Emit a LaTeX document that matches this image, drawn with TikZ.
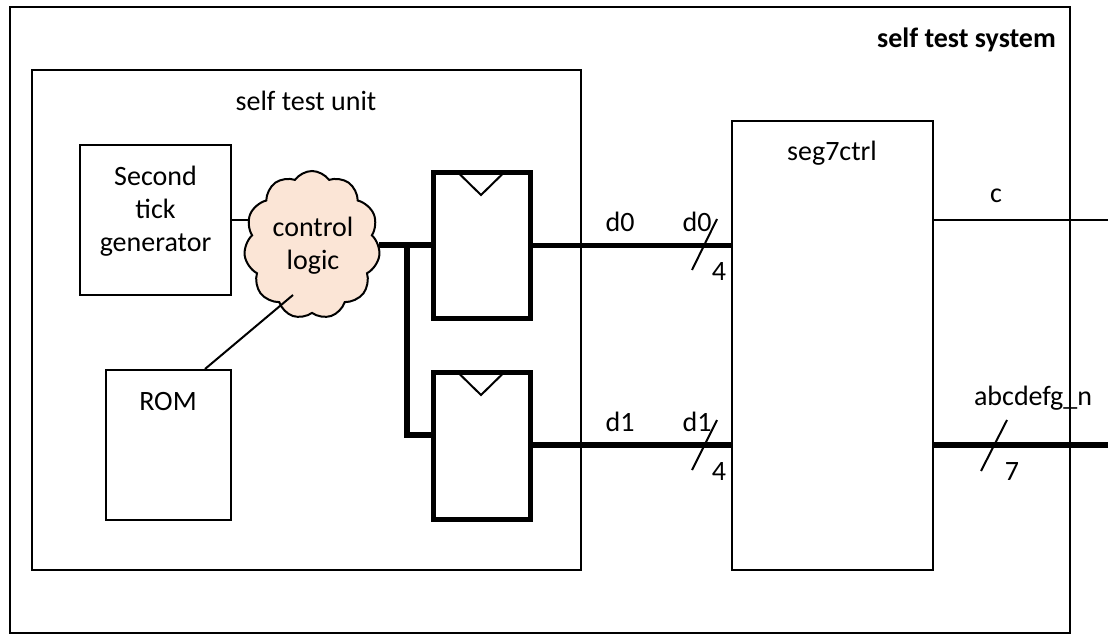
\documentclass[tikz,border=0pt]{standalone}
\usepackage{fontspec}
\setmainfont{Carlito}
\usetikzlibrary{shapes.symbols}
\definecolor{peach}{HTML}{FBE5D6}
\tikzset{
  thin box/.style={draw, line width=2pt, inner sep=0pt},
  regbox/.style={draw, line width=5.5pt, inner sep=0pt, minimum width=97pt},
  bus/.style={line width=5.5pt},
  wire/.style={line width=2pt},
  txt/.style={inner sep=0pt, font=\fontsize{28}{33}\selectfont, align=center},
}
\begin{document}
\begin{tikzpicture}[x=1pt,y=-1pt]
\useasboundingbox (0,0) rectangle (1108,637);
% boxes
\node[thin box, minimum width=1060pt, minimum height=626pt] (sys) at (540,320) {};
\node[txt, anchor=east, font=\fontsize{28}{33}\selectfont\bfseries] (systxt) at (1056,40) {self test system};
\node[thin box, minimum width=549pt, minimum height=500pt] (stu) at (306.5,320) {};
\node[txt] (stutxt) at (306,101) {self test unit};
\node[thin box, minimum width=151pt, minimum height=150pt] (stg) at (155.5,220) {};
\node[txt] (stgtxt) at (155.5,211) {Second\\tick\\generator};
\node[thin box, minimum width=125pt, minimum height=150pt] (rom) at (168.5,445) {};
\node[txt] (romtxt) at (168,402) {ROM};
\node[cloud, cloud puffs=11, cloud puff arc=110, aspect=0.9, draw, line width=2pt, fill=peach,
      minimum width=136pt, minimum height=148pt, inner sep=0pt] (cl) at (312,245) {};
\node[txt] (cltxt) at (313,246) {control\\logic};
\node[regbox, minimum height=146pt] (r1) at (482,245.5) {};
\node[regbox, minimum height=147pt] (r2) at (482,446) {};
\draw[wire] (458,172.5) -- (481,195) -- (504,172.5);
\draw[wire] (458,372.5) -- (481,395) -- (504,372.5);
\node[thin box, minimum width=201pt, minimum height=449pt] (seg) at (832.5,345.5) {};
\node[txt] (segtxt) at (832,153) {seg7ctrl};
% connections
\draw[wire] (stg.east |- 0,220) -- (250,220);
\draw[wire] (rom.north -| 205,0) -- (293,295);
\coordinate (br) at (407,245);
\draw[bus] (cl.east |- br) -- (r1.west |- br);
\draw[bus] (br) -- (407,435) -- (r2.west |- 0,435);
\draw[bus] (r1.east) -- (seg.west |- r1.east);
\draw[bus] (r2.east |- 0,445) -- (seg.west |- 0,445);
\coordinate (cout) at (1108,220);
\coordinate (aout) at (1108,445);
\draw[wire] (seg.east |- cout) -- (cout);
\draw[bus] (seg.east |- aout) -- (aout);
% slashes
\draw[wire] (692,270) -- (717,219);
\draw[wire] (692,470) -- (717,420);
\draw[wire] (981,471) -- (1007,420);
% labels
\node[txt] (l1) at (620,222) {d0};
\node[txt] (l2) at (697,222) {d0};
\node[txt] (l3) at (719,272) {4};
\node[txt] (l4) at (620,422) {d1};
\node[txt] (l5) at (697,422) {d1};
\node[txt] (l6) at (719,472) {4};
\node[txt] (l7) at (996,196) {c};
\node[txt] (l8) at (1033,398) {abcdefg\_n};
\node[txt] (l9) at (1012,472) {7};
\end{tikzpicture}
\end{document}
